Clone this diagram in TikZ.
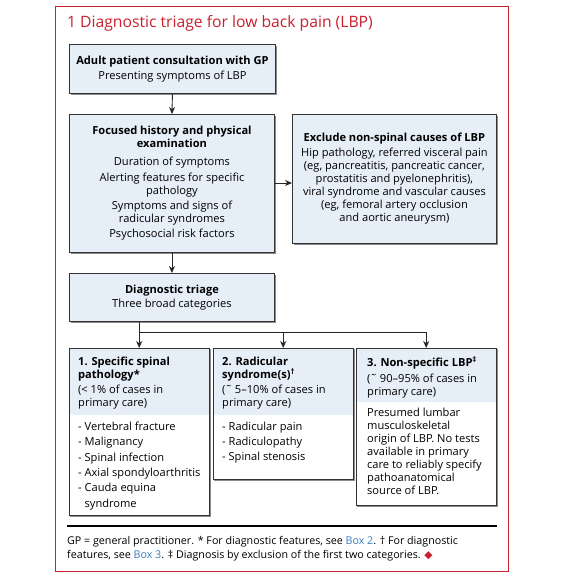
\documentclass[tikz,border=0pt]{standalone}
\usepackage{fontspec}
\setmainfont{Open Sans}
\newfontfamily\lbpsym{DejaVu Sans}
\usetikzlibrary{arrows.meta,calc,shadows}
\definecolor{lbpred}{HTML}{C8202F}
\definecolor{boxblue}{HTML}{E6EEF8}
\definecolor{linkblue}{HTML}{3B7FC4}
\definecolor{edgegray}{HTML}{333333}
\newcommand\lbpbody{\fontsize{11.1}{13}\selectfont}
\newcommand\lbplist{\fontsize{11.1}{15.4}\selectfont}
\begin{document}
\begin{tikzpicture}[x=1pt,y=-1pt,
  box/.style={draw=edgegray, line width=0.9pt, fill=boxblue, inner sep=0pt, align=center, font=\lbpbody, anchor=north west,
    drop shadow={shadow xshift=1.1pt, shadow yshift=-1.1pt, fill=black!45, opacity=1}},
  cat/.style={inner sep=0pt, minimum width=140, anchor=north west},
  outline/.style={draw=edgegray, line width=0.9pt},
  shade/.style={fill=black!45},
  txt/.style={inner sep=0pt, anchor=north west, align=left, font=\lbpbody},
  listtxt/.style={inner sep=0pt, anchor=north west, align=left, font=\lbplist},
  arr/.style={draw=black!85, line width=0.9pt, -{Stealth[length=7pt,width=6pt]}},
  line/.style={draw=black!85, line width=0.9pt}]
\fill[white] (0,0) rectangle (570,582);
\useasboundingbox (0,0) rectangle (570,582);

% frame and title
\node[draw=lbpred, line width=1.2pt, inner sep=0pt, minimum width=453, minimum height=565, anchor=north west] (frame) at (55,6) {};
\node[inner sep=0pt, anchor=west, text=lbpred, font=\fontsize{15.7}{18}\selectfont] (title) at (67,23) {1 Diagnostic triage for low back pain (LBP)};

% top boxes
\node[box, minimum width=206, minimum height=49] (b1) at (69,44)
  {\textbf{Adult patient consultation with GP}\\[2pt]Presenting symptoms of LBP};
\node[box, minimum width=205, minimum height=138] (b2) at (69,114)
  {\textbf{Focused history and physical}\\\textbf{examination}\\[5pt]Duration of symptoms\\[3pt]Alerting features for specific\\pathology\\[2pt]Symptoms and signs of\\radicular syndromes\\[2pt]Psychosocial risk factors};
\node[box, minimum width=204, minimum height=129] (b3) at (292,114)
  {\textbf{Exclude non-spinal causes of LBP}\\[2pt]Hip pathology, referred visceral pain\\(eg, pancreatitis, pancreatic cancer,\\prostatitis and pyelonephritis),\\viral syndrome and vascular causes\\(eg, femoral artery occlusion\\and aortic aneurysm)};
\node[box, minimum width=205, minimum height=48] (b4) at (69,273)
  {\textbf{Diagnostic triage}\\[1pt]Three broad categories};

% category boxes
\node[cat, minimum height=167] (A) at (69,348) {};
\node[cat, minimum height=131] (B) at (213,348) {};
\node[cat, minimum height=157] (C) at (356,348) {};
\foreach \n in {A,B,C}{
  \fill[shade] ($(\n.north west)+(1.1,1.1)$) rectangle ($(\n.south east)+(1.1,1.1)$);
  \fill[white] (\n.north west) rectangle (\n.south east);
}
\fill[boxblue] (A.north west) rectangle ($(A.north east)+(0,67)$);
\fill[boxblue] (B.north west) rectangle ($(B.north east)+(0,67)$);
\fill[boxblue] (C.north west) rectangle ($(C.north east)+(0,54)$);
\draw[outline] (A.north west) rectangle (A.south east);
\draw[outline] (B.north west) rectangle (B.south east);
\draw[outline] (C.north west) rectangle (C.south east);

\node[txt] (Ah) at ($(A.north west)+(9,8.5)$)
  {\textbf{1. Specific spinal}\\\textbf{pathology*}\\[2pt](< 1\% of cases in\\primary care)};
\node[txt] (Bh) at ($(B.north west)+(9,8.5)$)
  {\textbf{2. Radicular}\\\textbf{syndrome(s)\textsuperscript{†}}\\[2pt](˜ 5–10\% of cases in\\primary care)};
\node[txt] (Ch) at ($(C.north west)+(11,8.5)$)
  {\textbf{3. Non-specific LBP\textsuperscript{‡}}\\[3pt](˜ 90–95\% of cases in\\primary care)};

\node[listtxt] (Ab) at ($(A.north west)+(9,73.5)$)
  {- Vertebral fracture\\- Malignancy\\- Spinal infection\\- Axial spondyloarthritis\\- Cauda equina\\\phantom{- }syndrome};
\node[listtxt] (Bb) at ($(B.north west)+(9,73.5)$)
  {- Radicular pain\\- Radiculopathy\\- Spinal stenosis};
\node[txt] (Cb) at ($(C.north west)+(11,59.5)$)
  {Presumed lumbar\\musculoskeletal\\origin of LBP. No tests\\available in primary\\care to reliably specify\\pathoanatomical\\source of LBP.};

% connectors
\draw[arr] (b1.south) -- (b2.north);
\draw[arr] (b2.east |- 0,183) -- (b3.west |- 0,183);
\draw[arr] (b2.south) -- (b4.north);
\coordinate (j) at (b4.south -| A.north);
\coordinate (h) at ($(j)+(0,11)$);
\draw[arr] (j) -- (A.north);
\draw[arr] (h) -| (B.north);
\draw[arr] (h) -| (C.north);

% footnote
\draw[line width=1.6pt] (67,526) -- (497,526);
\node[txt, font=\fontsize{10.7}{14}\selectfont] (foot) at (67,536.5)
  {GP = general practitioner. * For diagnostic features, see \textcolor{linkblue}{Box 2}. † For diagnostic\\features, see \textcolor{linkblue}{Box 3}. ‡ Diagnosis by exclusion of the first two categories. \textcolor{lbpred}{\lbpsym ◆}};
\end{tikzpicture}
\end{document}
